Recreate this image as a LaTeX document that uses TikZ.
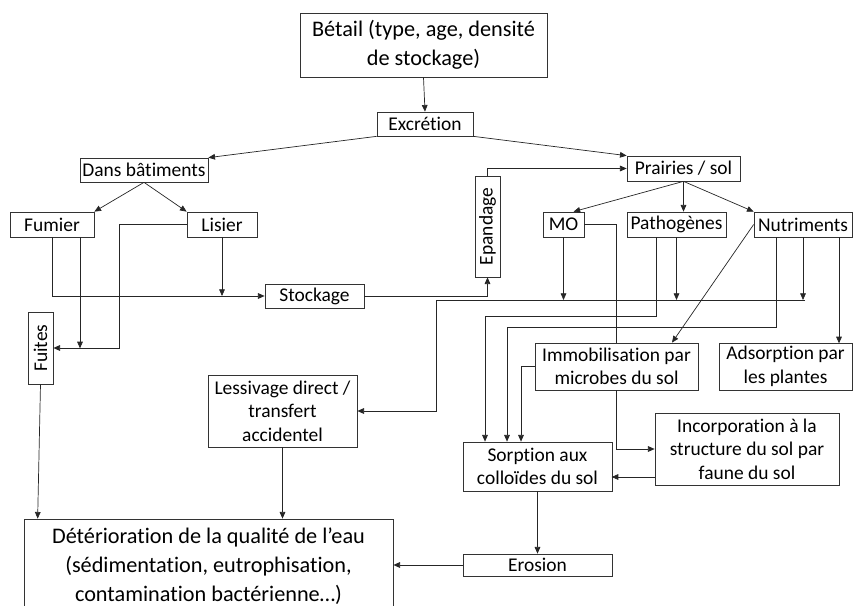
\documentclass[tikz,border=0pt]{standalone}
\usepackage{fontspec}
\usepackage{graphicx}
\setmainfont{Carlito}[Ligatures={NoCommon, NoRare, NoContextual}]
\usetikzlibrary{arrows.meta}

\begin{document}
\begin{tikzpicture}[
        x=0.3mm, y=-0.3mm,
        font=\fontsize{16.6}{20}\selectfont,
        block/.style={rectangle, draw=black!80, fill=white, align=center,
          inner sep=1pt, line width=0.6pt},
        bigblock/.style={block, font=\fontsize{19}{25}\selectfont},
        line/.style={draw=black!85, -{Triangle[length=2mm, width=1.7mm]},
          line width=0.6pt},
        link/.style={draw=black!85, line width=0.6pt}
      ]
      \useasboundingbox (0,0) rectangle (853,606);

      % Livestock and excretion
      \node [bigblock, minimum width=74.1mm, minimum height=19.2mm]
      (t_betail) at (423.5, 45) {B\'etail (type, age, densit\'e\\de stockage)};
      \node [block, minimum width=28.8mm, minimum height=7.2mm]
      (t_excretion) at (425, 124) {Excr\'etion};

      % Buildings side
      \node [block, minimum width=38.4mm, minimum height=7.2mm]
      (l_batiments) at (144, 170) {Dans b\^atiments};
      \node [block, minimum width=25.2mm, minimum height=7.5mm]
      (l_fumier) at (52, 224.5) {Fumier};
      \node [block, minimum width=21mm, minimum height=7.5mm]
      (l_lisier) at (222, 224.5) {Lisier};
      \node [block, minimum width=29.7mm, minimum height=7.2mm]
      (l_stockage) at (314.5, 296) {Stockage};
      \node [block, minimum width=7.5mm, minimum height=21.6mm]
      (l_fuites) at (40.5, 348) {\rotatebox{90}{Fuites}};
      \node [block, minimum width=44.7mm, minimum height=21.6mm]
      (l_lessivage) at (282.5, 411) {Lessivage direct /\\transfert\\accidentel};

      % Water quality
      \node [bigblock, minimum width=110.7mm, minimum height=28.2mm]
      (b_eau) at (208.5, 566) {D\'et\'erioration de la qualit\'e de l’eau\\
      (s\'edimentation, eutrophisation,\\contamination bact\'erienne…)};

      % Grassland side
      \node [block, minimum width=7.5mm, minimum height=30.3mm]
      (r_epandage) at (487.5, 226.5) {\rotatebox{90}{Epandage}};
      \node [block, minimum width=33.9mm, minimum height=7.5mm]
      (r_prairies) at (683.5, 168.5) {Prairies / sol};
      \node [block, minimum width=12.3mm, minimum height=7.5mm]
      (r_mo) at (563.5, 224.5) {MO};
      \node [block, minimum width=29.7mm, minimum height=7.5mm]
      (r_patho) at (676.5, 224.5) {Pathog\`enes};
      \node [block, minimum width=29.4mm, minimum height=7.5mm]
      (r_nutri) at (803, 224.5) {Nutriments};
      \node [block, minimum width=48.9mm, minimum height=14.1mm]
      (r_immob) at (616.5, 366.5) {Immobilisation par\\microbes du sol};
      \node [block, minimum width=39.9mm, minimum height=14.1mm]
      (r_adsorp) at (785.5, 366.5) {Adsorption par\\les plantes};
      \node [block, minimum width=55.2mm, minimum height=21.6mm]
      (r_incorp) at (747, 449) {Incorporation \`a la\\structure du sol par\\faune du sol};
      \node [block, minimum width=44.7mm, minimum height=14.7mm]
      (r_sorption) at (537.5, 466.5) {Sorption aux\\collo\"ides du sol};
      \node [block, minimum width=44.7mm, minimum height=6.6mm]
      (r_erosion) at (537.5, 565) {Erosion};

      % Top paths
      \path [line] (t_betail.south) -- (t_excretion.north);
      \path [line] (t_excretion.south west) -- (l_batiments.north east);
      \path [line] (t_excretion.south east) -- (r_prairies.north west);

      % Paths in buildings
      \path [line] (l_batiments.south) -- (l_fumier.north east);
      \path [line] (l_batiments.south) -- (l_lisier.north west);
      \path [line] (l_fumier.south) |- (l_stockage.west);
      \path [line] (l_lisier.south) -- (l_lisier.south |- l_stockage.west);
      \path [line] ([xshift=8.4mm]l_fumier.south) -- ++(0,111);
      \path [line] (l_lisier.west) -- ++(-67,0) |- (l_fuites.east);
      \path [line] (l_fuites.south) -- ([xshift=4.2mm]b_eau.north west);

      % Storage to spreading
      \path [line] (l_stockage.east) -| (r_epandage.south);
      \path [line] (r_epandage.north) |- (r_prairies.west);

      % Paths from grassland
      \path [line] (r_prairies.south) -- ([xshift=3mm]r_mo.north);
      \path [line] (r_prairies.south) -- (r_prairies.south |- r_patho.north);
      \path [line] (r_prairies.south) -- (r_nutri.north west);

      % Collecting line towards leaching
      \coordinate (c_end) at (805, 300);
      \coordinate (c_turn) at (436, 300);
      \path [line] (r_mo.south) -- (r_mo.south |- c_end);
      \path [line] (r_patho.south) -- (r_patho.south |- c_end);
      \path [line] (r_nutri.south) -- (r_nutri.south |- c_end);
      \path [line] (c_end) -- (c_turn) |- (l_lessivage.east);

      % Soil processes
      \path [link] (r_mo.east) -| (r_immob.north);
      \path [line] (r_immob.south) |- (r_incorp.west);
      \path [line] (r_nutri.west) -- ([xshift=16.65mm]r_immob.north);
      \path [line] ([xshift=-6.15mm]r_patho.south) -- ++(0,79)
      -| ([xshift=-15.75mm]r_sorption.north);
      \path [line] ([xshift=-8.1mm]r_nutri.south) -- ++(0,90)
      -| ([xshift=-9.15mm]r_sorption.north);
      \path [line] ([xshift=10.8mm]r_nutri.south) -- ++(0,106);
      \path [line] (r_immob.west) -| ([xshift=-4.95mm]r_sorption.north);
      \path [line] ([yshift=-8.4mm]r_incorp.west) -- ++(-43,0);

      % Paths to water quality
      \path [line] (r_sorption.south) -- (r_erosion.north);
      \path [line] (r_erosion.west) -- (r_erosion.west -| b_eau.east);
      \path [line] (l_lessivage.south) -- (l_lessivage.south |- b_eau.north);

    \end{tikzpicture}
\end{document}
